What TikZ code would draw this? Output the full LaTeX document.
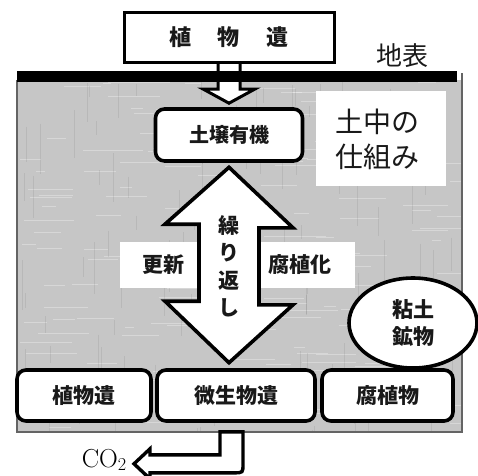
\documentclass[tikz,border=0pt]{standalone}
\usepackage{fontspec}
\newfontfamily\jp{Noto Sans CJK JP}
\usetikzlibrary{calc,shapes.geometric}
\definecolor{soilgray}{RGB}{198,198,198}
\definecolor{edgegray}{RGB}{100,100,100}
\definecolor{txtgray}{RGB}{25,25,25}
\begin{document}
\begin{tikzpicture}[x=1pt,y=-1pt,
  rbox/.style={draw=black,line width=3.6pt,rounded corners=9pt,fill=white,inner sep=0pt,
    font=\jp\bfseries\fontsize{21}{21}\selectfont,text=txtgray},
  wpanel/.style={fill=white,inner sep=0pt},
  jl/.style={font=\jp\bfseries\fontsize{21}{21}\selectfont,inner sep=0pt,text=txtgray},
  fat/.style={draw=black,line width=3.6pt,fill=white,line join=miter,miter limit=10},
  grainlight/.style={white,opacity=0.30,line width=0.7pt},
  graindark/.style={black,opacity=0.07,line width=0.8pt},
]
\useasboundingbox (0,0) rectangle (478,475);

% soil region with a faint texture
\fill[soilgray] (17,80) rectangle (462,432);
\begin{scope}
  \clip (17,80) rectangle (462,432);
  \pgfmathsetseed{11}
  \foreach \i in {1,...,160}{
    \pgfmathsetmacro\xx{17+rnd*440}
    \pgfmathsetmacro\yy{80+rnd*352}
    \pgfmathsetmacro\ll{8+rnd*55}
    \draw[grainlight] (\xx,\yy) -- ++(\ll,0);
  }
  \foreach \i in {1,...,120}{
    \pgfmathsetmacro\xx{17+rnd*440}
    \pgfmathsetmacro\yy{80+rnd*352}
    \pgfmathsetmacro\ll{8+rnd*45}
    \draw[graindark] (\xx,\yy) -- ++(0,\ll);
  }
\end{scope}
\draw[edgegray,line width=1.2pt] (17,80) -- (17,432) -- (462,432) -- (462,73);

% top box
\node[draw=black,line width=3pt,fill=white,minimum width=210pt,minimum height=50pt,inner sep=0pt,
  font=\jp\bfseries\fontsize{22}{22}\selectfont,text=txtgray] (plant) at (229,37.5)
  {植\hspace{27pt}物\hspace{27pt}遺};

% soil organic box
\node[rbox,minimum width=147pt,minimum height=52pt,font=\jp\bfseries\fontsize{20}{20}\selectfont] (soil) at (229,135) {土壌有機};

% arrow plant -> soil
\draw[fat,line width=3pt] ($(plant.south)+(-11,0)$) -- ($(plant.south)+(-11,25)$) -- ($(plant.south)+(-26,25)$)
  -- ($(soil.north)+(0,-4)$) -- ($(plant.south)+(26,25)$) -- ($(plant.south)+(11,25)$) -- ($(plant.south)+(11,0)$);

% ground surface bar
\fill[black] (17,71) rectangle (457,82);
\node[font=\jp\fontsize{26}{26}\selectfont,text=txtgray,inner sep=0pt] (surf) at (402,56) {地表};

% panel
\node[wpanel,minimum width=130pt,minimum height=95pt] (panel) at (381,138.5) {};
\node[font=\jp\fontsize{28}{35}\selectfont,text=txtgray,align=left,anchor=west,inner sep=0pt] (ptxt) at (335,139.5) {土中の\\仕組み};

% side labels
\node[wpanel,minimum width=80pt,minimum height=46pt] (kbox) at (159.5,265) {};
\node[jl] (ktxt) at (163,265) {更新};
\node[wpanel,minimum width=97pt,minimum height=46pt] (fbox) at (306.5,265) {};
\node[jl] (ftxt) at (300,265) {腐植化};

% bottom boxes
\node[rbox,minimum width=134pt,minimum height=51pt] (b1) at (84,395.5) {植物遺};
\node[rbox,minimum width=158pt,minimum height=51pt] (micro) at (236,395.5) {微生物遺};
\node[rbox,minimum width=131pt,minimum height=51pt] (b3) at (387.5,395.5) {腐植物};

% double arrow
\draw[fat] ($(soil.south)+(0,4.5)$) -- ++(64,60.5) -- ++(-34,0) -- ++(0,77) -- ++(34,0)
  -- ($(soil.south |- micro.north)+(0,-5.5)$) -- ++(-64,-61.5) -- ++(34,0) -- ++(0,-77) -- ++(-34,0) -- cycle;
\node[jl,align=center,font=\jp\bfseries\fontsize{21}{27.5}\selectfont] (rep) at (229,266.5) {繰\\り\\返\\し};

% clay circle
\node[ellipse,draw=black,line width=3.6pt,fill=white,minimum width=128pt,minimum height=90pt,inner sep=0pt,
  align=center,font=\jp\bfseries\fontsize{21}{27}\selectfont,text=txtgray] (clay) at (413,323) {粘土\\鉱物};

% CO2
\node[font=\fontsize{26}{26}\selectfont,inner sep=0pt,anchor=east] (co2) at (127,460) {CO\textsubscript{2}};
\draw[fat,line width=3.4pt] ($(micro.south)+(-16,9)$) -- ($(micro.south)+(7,9)$) -- ($(micro.south)+(7,41)$)
  .. controls ($(micro.south)+(7,50)$) .. ($(micro.south)+(-2,50)$) -- ($(micro.south)+(-86,50)$)
  -- ($(micro.south)+(-86,56)$) -- ($(micro.south)+(-102,41)$) -- ($(micro.south)+(-86,26)$)
  -- ($(micro.south)+(-86,32)$) -- ($(micro.south)+(-16,32)$) -- cycle;
\end{tikzpicture}
\end{document}
